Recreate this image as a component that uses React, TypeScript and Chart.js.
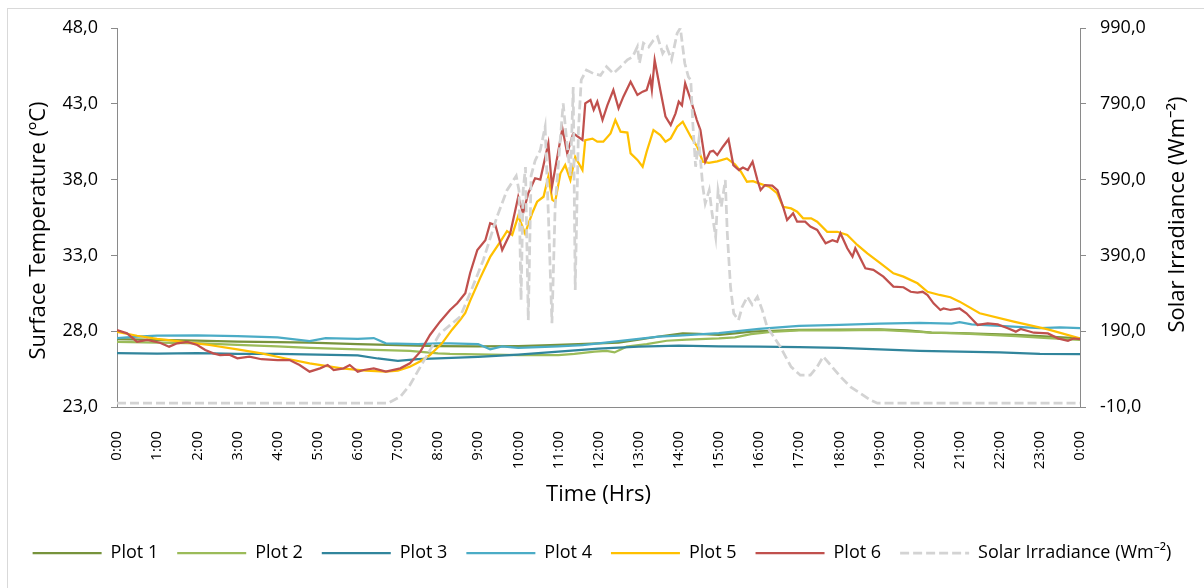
import React, { useEffect, useRef } from "react";
import { Chart, registerables } from "chart.js";

Chart.register(...registerables);

const FONT = '"Open Sans", "Noto Sans", sans-serif';

// ---- axis ticks ----
const xTickHours = [0, 1, 2, 3, 4, 5, 6, 7, 8, 9, 10, 11, 12, 13, 14, 15, 16, 17, 18, 19, 20, 21, 22, 23, 24];
const tempTicks = [23, 28, 33, 38, 43, 48];
const irradianceTicks = [-10, 190, 390, 590, 790, 990];

// ---- series names ----
const seriesNames = ["Plot 1", "Plot 2", "Plot 3", "Plot 4", "Plot 5", "Plot 6", "Solar Irradiance (Wm⁻²)"];

// ---- Plot 1 ----
const plot1Hours = [0, 1, 2, 3, 4, 4.8, 6, 7, 8, 9, 10, 10.8, 11.5, 12.5, 13, 13.5, 14.1, 14.5, 15, 15.4, 15.8, 16.5, 17, 18, 19, 19.7, 20.3, 21, 22.4, 23, 24];
const plot1Temp = [27.47, 27.42, 27.38, 27.32, 27.28, 27.24, 27.15, 27.08, 27.02, 27.0, 27.02, 27.08, 27.15, 27.24, 27.45, 27.65, 27.86, 27.82, 27.75, 27.85, 27.97, 28.03, 28.08, 28.1, 28.12, 28.05, 27.9, 27.88, 27.75, 27.68, 27.53];

// ---- Plot 2 ----
const plot2Hours = [0, 1, 2.1, 3, 4, 4.8, 6, 7.3, 8, 8.3, 9, 10, 11, 11.4, 11.9, 12.2, 12.4, 12.7, 13.2, 13.7, 14.2, 15, 15.4, 15.8, 16.3, 17, 18, 19, 20, 20.3, 21, 22.4, 23.2, 24];
const plot2Temp = [27.3, 27.25, 27.2, 27.1, 27.0, 26.9, 26.8, 26.71, 26.54, 26.5, 26.47, 26.43, 26.43, 26.5, 26.65, 26.7, 26.6, 26.98, 27.15, 27.37, 27.45, 27.53, 27.6, 27.8, 27.95, 28.05, 28.05, 28.08, 27.95, 27.9, 27.85, 27.68, 27.55, 27.42];

// ---- Plot 3 ----
const plot3Hours = [0, 1, 2, 3, 4, 5, 6, 6.5, 7, 7.5, 8, 9, 10, 11, 12, 13, 14, 15, 16, 17, 18, 19, 20, 21, 22, 23, 24];
const plot3Temp = [26.55, 26.52, 26.55, 26.5, 26.5, 26.45, 26.4, 26.2, 26.05, 26.15, 26.2, 26.3, 26.45, 26.65, 26.85, 26.98, 27.05, 27.0, 26.98, 26.95, 26.9, 26.8, 26.7, 26.65, 26.6, 26.5, 26.48];

// ---- Plot 4 ----
const plot4Hours = [0, 0.5, 1, 2, 3, 4, 4.8, 5.2, 6, 6.4, 6.7, 7.5, 8, 8.3, 9, 9.3, 9.6, 10, 10.5, 11, 11.6, 12, 12.5, 13, 13.5, 14, 15, 16, 17, 18, 19, 20, 20.8, 21, 21.3, 22, 23, 23.5, 24];
const plot4Temp = [27.55, 27.65, 27.7, 27.72, 27.68, 27.6, 27.35, 27.55, 27.5, 27.55, 27.2, 27.15, 27.2, 27.2, 27.15, 26.8, 27.0, 26.9, 26.95, 27.0, 27.08, 27.2, 27.35, 27.5, 27.64, 27.7, 27.87, 28.15, 28.35, 28.42, 28.5, 28.55, 28.5, 28.6, 28.45, 28.35, 28.2, 28.25, 28.2];

// ---- Plot 5 ----
const plot5Hours = [0, 0.5, 1, 1.5, 2.3, 3, 3.6, 4.2, 4.8, 5.6, 6.2, 6.7, 7.0, 7.3, 7.55, 7.8, 8.1, 8.35, 8.55, 8.68, 8.8, 9.05, 9.3, 9.55, 9.72, 9.85, 10.0, 10.17, 10.35, 10.47, 10.63, 10.75, 10.85, 10.92, 11.05, 11.17, 11.3, 11.42, 11.6, 11.67, 11.85, 11.97, 12.12, 12.3, 12.42, 12.55, 12.72, 12.8, 12.97, 13.1, 13.2, 13.37, 13.54, 13.67, 13.8, 13.96, 14.1, 14.3, 14.46, 14.6, 14.75, 14.96, 15.2, 15.4, 15.55, 15.7, 15.85, 16.0, 16.25, 16.45, 16.6, 16.8, 16.95, 17.1, 17.3, 17.45, 17.7, 17.95, 18.2, 18.45, 18.7, 19.03, 19.35, 19.6, 19.95, 20.2, 20.5, 20.77, 21.0, 21.5, 22.35, 23.2, 24.0];
const plot5Temp = [27.95, 27.7, 27.5, 27.35, 27.09, 26.8, 26.54, 26.2, 25.88, 25.55, 25.4, 25.33, 25.4, 25.66, 26.0, 26.43, 27.2, 28.1, 28.74, 29.2, 30.0, 31.5, 32.9, 33.9, 34.6, 34.35, 35.6, 34.45, 35.8, 36.54, 36.87, 38.2, 36.66, 36.54, 38.4, 38.96, 37.97, 39.5, 38.63, 40.6, 40.7, 40.5, 40.5, 41.05, 41.93, 41.16, 41.1, 39.73, 39.3, 38.85, 39.84, 41.27, 40.94, 40.5, 40.72, 41.49, 41.82, 40.83, 40.17, 39.18, 39.1, 39.2, 39.4, 39.0, 38.52, 37.86, 37.9, 37.75, 37.53, 37.1, 36.21, 36.1, 35.88, 35.45, 35.45, 35.22, 34.56, 34.56, 34.35, 33.69, 33.14, 32.48, 31.82, 31.6, 31.16, 30.6, 30.39, 30.24, 29.95, 29.18, 28.63, 28.12, 27.53];

// ---- Plot 6 ----
const plot6Hours = [0, 0.25, 0.5, 0.75, 1.07, 1.3, 1.5, 1.75, 2.0, 2.2, 2.4, 2.57, 2.8, 3.0, 3.3, 3.6, 4.0, 4.3, 4.55, 4.8, 5.06, 5.25, 5.4, 5.65, 5.8, 6.0, 6.15, 6.4, 6.7, 7.06, 7.3, 7.56, 7.8, 8.05, 8.3, 8.48, 8.68, 8.8, 8.98, 9.18, 9.3, 9.43, 9.6, 9.8, 10.0, 10.12, 10.25, 10.42, 10.55, 10.75, 10.84, 11.1, 11.22, 11.37, 11.6, 11.67, 11.8, 11.88, 11.97, 12.1, 12.22, 12.37, 12.5, 12.62, 12.8, 12.97, 13.1, 13.2, 13.29, 13.33, 13.4, 13.54, 13.67, 13.8, 13.92, 14.0, 14.08, 14.16, 14.3, 14.45, 14.54, 14.66, 14.78, 14.86, 14.96, 15.1, 15.24, 15.36, 15.5, 15.6, 15.72, 15.84, 15.96, 16.04, 16.15, 16.33, 16.46, 16.6, 16.7, 16.85, 16.95, 17.15, 17.28, 17.45, 17.66, 17.83, 17.95, 18.03, 18.2, 18.33, 18.4, 18.65, 18.85, 19.1, 19.35, 19.6, 19.78, 19.95, 20.08, 20.2, 20.35, 20.52, 20.6, 20.77, 21.0, 21.17, 21.45, 21.7, 21.95, 22.2, 22.4, 22.52, 22.85, 23.2, 23.45, 23.7, 23.85, 24];
const plot6Temp = [28.08, 27.86, 27.3, 27.42, 27.24, 26.98, 27.2, 27.3, 27.09, 26.76, 26.54, 26.43, 26.45, 26.21, 26.32, 26.15, 26.1, 26.1, 25.77, 25.33, 25.55, 25.77, 25.44, 25.55, 25.77, 25.33, 25.44, 25.55, 25.33, 25.55, 25.88, 26.65, 27.75, 28.63, 29.4, 29.84, 30.5, 31.82, 33.36, 34.0, 35.12, 35.0, 33.36, 34.46, 36.87, 35.78, 37.1, 38.09, 38.0, 40.4, 37.53, 41.38, 39.73, 41.05, 40.61, 43.03, 43.25, 42.6, 43.14, 41.93, 42.9, 43.91, 42.7, 43.47, 44.46, 43.58, 43.8, 43.9, 44.68, 43.91, 45.89, 43.91, 42.15, 41.6, 42.37, 43.14, 42.9, 44.35, 43.25, 41.93, 41.27, 39.18, 39.84, 39.9, 39.62, 40.17, 40.66, 38.96, 38.63, 38.8, 38.63, 39.18, 37.97, 37.31, 37.64, 37.6, 37.31, 36.21, 35.33, 35.78, 35.22, 35.22, 34.9, 34.68, 33.8, 34.0, 33.9, 34.46, 33.47, 32.92, 33.47, 32.15, 32.05, 31.6, 30.94, 30.9, 30.6, 30.55, 30.6, 30.39, 29.84, 29.4, 29.5, 29.4, 29.5, 29.18, 28.41, 28.52, 28.45, 28.19, 27.97, 28.15, 27.9, 27.85, 27.53, 27.37, 27.53, 27.47];

// ---- Solar irradiance ----
const solarHours = [0, 6.75, 7.06, 7.3, 7.56, 7.8, 8.05, 8.3, 8.55, 8.8, 9.13, 9.47, 9.72, 9.95, 10.02, 10.07, 10.12, 10.18, 10.25, 10.32, 10.42, 10.55, 10.67, 10.75, 10.84, 10.92, 11.05, 11.12, 11.2, 11.3, 11.37, 11.42, 11.5, 11.57, 11.7, 11.87, 12.05, 12.2, 12.37, 12.55, 12.72, 12.85, 12.97, 13.02, 13.12, 13.25, 13.37, 13.47, 13.6, 13.7, 13.82, 13.96, 14.04, 14.15, 14.24, 14.3, 14.35, 14.42, 14.5, 14.6, 14.66, 14.76, 14.83, 14.92, 14.98, 15.06, 15.16, 15.21, 15.29, 15.37, 15.49, 15.58, 15.71, 15.83, 15.96, 16.08, 16.2, 16.53, 16.8, 17.03, 17.28, 17.45, 17.6, 17.78, 18.03, 18.28, 18.53, 18.78, 18.95, 24];
const solarIrradiance = [0, 0, 17, 48, 96, 140, 184, 206, 228, 290, 378, 492, 562, 600, 560, 272, 560, 623, 219, 600, 640, 668, 729, 500, 211, 520, 700, 791, 700, 600, 834, 299, 720, 853, 879, 870, 865, 888, 870, 888, 906, 914, 941, 897, 950, 940, 958, 967, 923, 940, 906, 976, 990, 897, 861, 853, 739, 624, 694, 571, 527, 562, 501, 439, 562, 518, 589, 448, 307, 237, 219, 254, 281, 260, 281, 246, 202, 149, 96, 74, 74, 96, 123, 101, 70, 43, 26, 8, 0, 0];

const leftTitle = "Surface Temperature (ºC)";
const rightTitle = "Solar Irradiance (Wm⁻²)";
const xTitle = "Time (Hrs)";

const COLORS = ["#77933c", "#9bbb59", "#31859c", "#4bacc6", "#ffc000", "#c0504d", "#d3d3d3"];
const AXIS = "#8a8a8a";

const toPoints = (hours: number[], values: number[]) => hours.map((h, i) => ({ x: h, y: values[i] }));
const commaFmt = (v: number) => Number(v).toFixed(1).replace(".", ",");

// Both vertical axis titles read bottom-to-top, as in the reference
const axisTitlesPlugin = {
  id: "axisTitles",
  afterDraw(chart: any) {
    const ctx = chart.ctx;
    const area = chart.chartArea;
    const mid = (area.top + area.bottom) / 2;
    const draw = (text: string, x: number, y: number) => {
      ctx.save();
      ctx.translate(x, y);
      ctx.rotate(-Math.PI / 2);
      ctx.font = `22px ${FONT}`;
      ctx.fillStyle = "#000";
      ctx.textAlign = "center";
      ctx.textBaseline = "middle";
      ctx.fillText(text, 0, 0);
      ctx.restore();
    };
    draw(leftTitle, chart.scales.y.left + 39, mid + 13);
    draw(rightTitle, chart.scales.y2.right - 26, mid - 3);
  },
};

export default function App() {
  const ref = useRef<HTMLCanvasElement | null>(null);

  useEffect(() => {
    if (!ref.current) return;
    const series = [
      { h: plot1Hours, v: plot1Temp, axis: "y" },
      { h: plot2Hours, v: plot2Temp, axis: "y" },
      { h: plot3Hours, v: plot3Temp, axis: "y" },
      { h: plot4Hours, v: plot4Temp, axis: "y" },
      { h: plot5Hours, v: plot5Temp, axis: "y" },
      { h: plot6Hours, v: plot6Temp, axis: "y" },
      { h: solarHours, v: solarIrradiance, axis: "y2" },
    ];
    const datasets = series.map((s, i) => ({
      label: seriesNames[i],
      data: toPoints(s.h, s.v),
      yAxisID: s.axis,
      borderColor: COLORS[i],
      backgroundColor: COLORS[i],
      borderWidth: i === 6 ? 2.75 : 2.25,
      borderDash: i === 6 ? [9, 4] : [],
      pointRadius: 0,
      tension: 0,
      order: series.length - i,
    }));

    const defaultLabels = (Chart.defaults as any).plugins.legend.labels.generateLabels;

    const chart = new Chart(ref.current, {
      type: "line",
      data: { datasets },
      plugins: [axisTitlesPlugin],
      options: {
        responsive: false,
        animation: false,
        devicePixelRatio: 1,
        layout: { padding: { top: 28, bottom: 16, left: 0, right: 0 } },
        plugins: {
          legend: {
            position: "bottom",
            align: "center",
            labels: {
              usePointStyle: true,
              pointStyle: "line",
              pointStyleWidth: 69,
              padding: 19,
              color: "#000",
              font: { family: FONT, size: 18 },
              sort: (a: any, b: any) => a.datasetIndex - b.datasetIndex,
              generateLabels: (c: any) => {
                const items = defaultLabels(c);
                items.forEach((it: any) => {
                  const ds = c.data.datasets[it.datasetIndex];
                  it.lineDash = ds.borderDash;
                  it.lineWidth = ds.borderWidth;
                  it.strokeStyle = ds.borderColor;
                  it.fillStyle = ds.borderColor;
                });
                return items;
              },
            },
          },
          tooltip: { enabled: false },
        },
        scales: {
          x: {
            type: "linear",
            min: 0,
            max: 24,
            afterBuildTicks: (s: any) => {
              s.ticks = xTickHours.map((v) => ({ value: v }));
            },
            afterFit: (s: any) => {
              s.height = 118;
            },
            ticks: {
              autoSkip: false,
              minRotation: 90,
              maxRotation: 90,
              padding: 16,
              color: "#000",
              font: { family: FONT, size: 15 },
              callback: (v: any) => `${Number(v) % 24}:00`,
            },
            grid: { display: false },
            border: { display: true, color: AXIS, width: 1 },
            title: {
              display: true,
              text: xTitle,
              color: "#000",
              font: { family: FONT, size: 22 },
              padding: { top: 0, bottom: 17 },
            },
          },
          y: {
            position: "left",
            min: 23,
            max: 48,
            afterBuildTicks: (s: any) => {
              s.ticks = tempTicks.map((v) => ({ value: v }));
            },
            afterFit: (s: any) => {
              s.width = 117;
            },
            ticks: {
              padding: 13,
              color: "#000",
              font: { family: FONT, size: 18 },
              callback: (v: any) => commaFmt(v),
            },
            grid: { display: true, drawOnChartArea: false, drawTicks: true, tickLength: 6, color: AXIS },
            border: { display: true, color: AXIS, width: 1 },
            title: { display: false },
          },
          y2: {
            position: "right",
            min: -10,
            max: 990,
            afterBuildTicks: (s: any) => {
              s.ticks = irradianceTicks.map((v) => ({ value: v }));
            },
            afterFit: (s: any) => {
              s.width = 124;
            },
            ticks: {
              padding: 14,
              color: "#000",
              font: { family: FONT, size: 18 },
              callback: (v: any) => commaFmt(v),
            },
            grid: { display: true, drawOnChartArea: false, drawTicks: true, tickLength: 6, color: AXIS },
            border: { display: true, color: AXIS, width: 1 },
            title: { display: false },
          },
        },
      } as any,
    });
    return () => chart.destroy();
  }, []);

  return (
    <div style={{ position: "absolute", left: 0, top: 0, width: 1204, height: 588, overflow: "hidden", background: "#fff" }}>
      <div
        style={{
          position: "absolute",
          left: 7,
          top: 8,
          width: 1260,
          height: 640,
          border: "1px solid #d9d9d9",
        }}
      />
      <canvas ref={ref} width={1204} height={588} style={{ position: "absolute", left: 0, top: 0, display: "block" }} />
    </div>
  );
}
